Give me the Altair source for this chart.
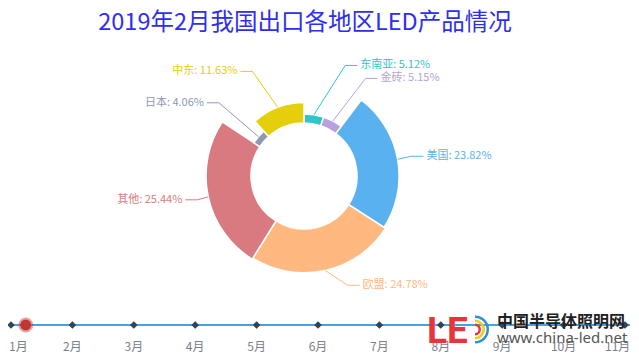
import math
import altair as alt
import pandas as pd

# ---------------- data ----------------
regions = ["东南亚", "金砖", "美国", "欧盟", "其他", "日本", "中东"]
shares = [5.12, 5.15, 23.82, 24.78, 25.44, 4.06, 11.63]
colors = ["#2ec7c9", "#b6a2de", "#5ab1ef", "#ffb980", "#d87a80", "#8d98b3", "#e5cf0d"]

months = ["1月", "2月", "3月", "4月", "5月", "6月", "7月", "8月", "9月", "10月", "11月"]
month_idx = list(range(1, 12))
current_pos = [1.24]

title_text = "2019年2月我国出口各地区LED产品情况"
logo_cn = "中国半导体照明网"
logo_url = "www.china-led.net"
logo_le = "LE"

# ---------------- layout constants ----------------
W, H = 623, 348
CX, CY = 296, 168
R0, R1 = 53, 98
LEN1, LEN2 = 14, 12
LABEL_H = 13
FONT = "Noto Sans CJK SC"

df = pd.DataFrame({"region": regions, "share": shares, "order": list(range(len(regions)))})
color_scale = alt.Scale(domain=regions, range=colors)
no_legend = dict(scale=color_scale, legend=None)

base = alt.Chart(df)

arcs = base.mark_arc(stroke="white", strokeWidth=1.5).encode(
    theta=alt.Theta("share:Q", stack=True),
    radius=alt.Radius("share:Q", scale=alt.Scale(type="linear", domain=[0, max(shares)], range=[R0, R1])),
    radius2=alt.value(R0),
    color=alt.Color("region:N", **no_legend),
    order=alt.Order("order:Q"),
    x=alt.value(CX),
    y=alt.value(CY),
)

lab = (
    base.transform_joinaggregate(total="sum(share)", vmax="max(share)")
    .transform_window(cum="sum(share)", sort=[alt.SortField("order")], frame=[None, 0])
    .transform_calculate(
        mid="(datum.cum - datum.share / 2) / datum.total * 2 * PI",
    )
    .transform_calculate(
        ri=f"{R0} + ({R1} - {R0}) * datum.share / datum.vmax",
        side="sin(datum.mid) >= 0 ? 1 : -1",
        y0=f"{CY} - {R1 + LEN1} * cos(datum.mid)",
    )
    .transform_calculate(
        x1=f"{CX} + datum.ri * sin(datum.mid)",
        y1=f"{CY} - datum.ri * cos(datum.mid)",
    )
    .transform_window(prev="lag(y0)", groupby=["side"], sort=[alt.SortField("y0")])
    .transform_calculate(
        ly=f"datum.prev != null && datum.y0 < datum.prev + {LABEL_H} ? datum.prev + {LABEL_H} : datum.y0",
    )
    .transform_calculate(
        lx=f"{CX} + datum.side * sqrt(max(0, pow({R1 + LEN1 + LEN2}, 2) - pow(datum.ly - {CY}, 2)))",
        label="datum.region + ': ' + format(datum.share, '.2f') + '%'",
    )
    .transform_calculate(
        xe="datum.lx - datum.side * 3",
    )
    .transform_calculate(
        xm=f"datum.xe - datum.side * {LEN2}",
    )
)

seg1 = lab.mark_rule(strokeWidth=1).encode(
    x=alt.X("x1:Q", scale=None, axis=None),
    y=alt.Y("y1:Q", scale=None, axis=None),
    x2="xm:Q",
    y2="ly:Q",
    color=alt.Color("region:N", **no_legend),
)
seg2 = lab.mark_rule(strokeWidth=1).encode(
    x=alt.X("xm:Q", scale=None, axis=None),
    y=alt.Y("ly:Q", scale=None, axis=None),
    x2="xe:Q",
    color=alt.Color("region:N", **no_legend),
)
txt_r = lab.transform_filter("datum.side > 0").mark_text(
    align="left", baseline="middle", font=FONT, fontSize=11
).encode(
    x=alt.X("lx:Q", scale=None, axis=None),
    y=alt.Y("ly:Q", scale=None, axis=None),
    text="label:N",
    color=alt.Color("region:N", **no_legend),
)
txt_l = lab.transform_filter("datum.side < 0").mark_text(
    align="right", baseline="middle", font=FONT, fontSize=11
).encode(
    x=alt.X("lx:Q", scale=None, axis=None),
    y=alt.Y("ly:Q", scale=None, axis=None),
    text="label:N",
    color=alt.Color("region:N", **no_legend),
)

# ---------------- title ----------------
title = alt.Chart(pd.DataFrame({"t": [title_text]})).mark_text(
    font=FONT, fontSize=23.5, color="#2e2ef0", align="center", baseline="alphabetic"
).encode(x=alt.value(297), y=alt.value(22), text="t:N")

# ---------------- timeline ----------------
tl = pd.DataFrame({"month": months, "idx": month_idx})
tx = alt.Scale(domain=[1, 11], range=[3, 617])
tline = alt.Chart(tl).mark_rule(color="#45a2e6", strokeWidth=2).encode(
    x=alt.X(datum=0.95, type="quantitative", scale=tx, axis=None),
    x2=alt.X2(datum=11.08),
    y=alt.value(317),
)
tdots = alt.Chart(tl).mark_point(shape="diamond", filled=True, color="#304654", size=60, opacity=1).encode(
    x=alt.X("idx:Q", scale=tx, axis=None),
    y=alt.value(317),
)
tlabels = alt.Chart(tl).transform_calculate(lx="clamp(datum.idx, 1.12, 10.88)").mark_text(
    font=FONT, fontSize=12, color="#7a8088", baseline="middle", align="center"
).encode(
    x=alt.X("lx:Q", scale=tx, axis=None),
    y=alt.value(339),
    text="month:N",
)
tcur = alt.Chart(pd.DataFrame({"pos": current_pos})).mark_point(
    shape="circle", filled=True, fill="#c23531", stroke="#c23531", strokeOpacity=0.45,
    strokeWidth=4, size=120, opacity=1
).encode(x=alt.X("pos:Q", scale=tx, axis=None), y=alt.value(317))

# ---------------- logo watermark ----------------
logo_le_t = alt.Chart(pd.DataFrame({"t": [logo_le]})).mark_text(
    font="Roboto", fontWeight="bold", fontSize=37, color="#e8353d", align="left", baseline="alphabetic"
).encode(x=alt.value(419), y=alt.value(335), text="t:N")

rings = pd.DataFrame({
    "ring": ["outer", "mid", "inner"],
    "ro": [14, 10, 6],
    "ri": [11.5, 7.5, 3.5],
})
logo_d = alt.Chart(rings).mark_arc(theta=0, theta2=math.pi).encode(
    radius=alt.Radius("ro:Q", scale=None),
    radius2=alt.Radius2("ri:Q"),
    fill=alt.Fill("ring:N", scale=alt.Scale(domain=["outer", "mid", "inner"],
                                             range=["#2f8fd8", "#f5cc14", "#e8353d"]), legend=None),
    x=alt.value(467),
    y=alt.value(321.5),
)
logo_cn_t = alt.Chart(pd.DataFrame({"t": [logo_cn]})).mark_text(
    font=FONT, fontWeight="bold", fontSize=16, color="#222222", align="left", baseline="middle"
).encode(x=alt.value(489), y=alt.value(313.5), text="t:N")
logo_url_t = alt.Chart(pd.DataFrame({"t": [logo_url]})).mark_text(
    font="Noto Sans", fontSize=15, color="#555555", align="left", baseline="alphabetic"
).encode(x=alt.value(489), y=alt.value(335), text="t:N")

chart = alt.layer(
    title, arcs, seg1, seg2, txt_r, txt_l,
    tline, tdots, tlabels, tcur,
    logo_le_t, logo_d, logo_cn_t, logo_url_t,
).resolve_scale(x="independent", y="independent", radius="independent").properties(
    width=W, height=H, padding=0, autosize="none"
).configure_view(stroke=None)

chart.save("out.html", embed_options={"renderer": "svg", "actions": False})
